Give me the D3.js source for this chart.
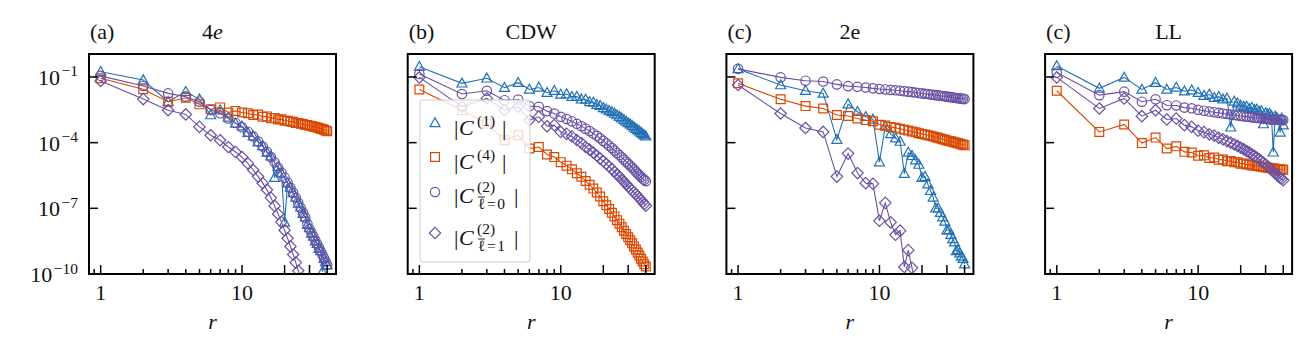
<!DOCTYPE html>
<html><head><meta charset="utf-8">
<script src="https://cdn.jsdelivr.net/npm/d3@7"></script>
<style>
body{margin:0;background:#fff}
svg{display:block}
text{font-family:"Liberation Serif","DejaVu Serif",serif;fill:#111}
</style>
</head><body>
<svg id="chart" width="1313" height="354"></svg>
<script>
// ---------------- data (values are log10 |C|) ----------------
const r = [1,2,3,4,5,6,7,8,9,10,11,12,13,14,15,16,17,18,19,20,21,22,23,24,25,26,27,28,29,30,31,32,33,34,35,36,37,38,39,40];
const panelLabels = ["(a)","(b)","(c)","(c)"];
const panelTitles = ["4e","CDW","2e","LL"];
const xTickValues = [1,10];
const xLongTicks = [1,10,20,30,40];
const xShortTicks = [0.9,2,3,4,5,6,7,8,9];
const yTickValues = [1e-1,1e-4,1e-7,1e-10];
const yTickExponents = ["−1","−4","−7","−10"];

const a_C1  = [-0.76,-1.14,-2.13,-1.67,-2.02,-2.74,-2.52,-2.85,-3.12,-3.25,-3.55,-3.7,-3.98,-4.15,-4.45,-4.62,-5.6,-5.1,-5.4,-7.64,-5.85,-6.05,-6.3,-6.5,-6.78,-6.95,-7.25,-7.4,-7.75,-7.9,-8.15,-8.28,-8.5,-8.62,-8.85,-8.95,-9.9,-9.3,-9.45,-9.6];
const a_C4  = [-1.06,-1.56,-2.13,-1.95,-2.25,-2.48,-2.39,-2.62,-2.55,-2.62,-2.66,-2.74,-2.72,-2.82,-2.8,-2.88,-2.87,-2.94,-2.93,-3.0,-3.0,-3.05,-3.05,-3.1,-3.1,-3.14,-3.15,-3.19,-3.19,-3.23,-3.24,-3.27,-3.28,-3.31,-3.33,-3.36,-3.38,-3.41,-3.44,-3.48];
const a_C20 = [-0.95,-1.41,-1.75,-1.9,-2.13,-2.5,-2.66,-2.9,-3.1,-3.3,-3.5,-3.72,-3.95,-4.18,-4.42,-4.66,-4.9,-5.14,-5.38,-5.6,-5.83,-6.06,-6.29,-6.52,-6.75,-6.98,-7.2,-7.42,-7.7,-7.95,-8.12,-8.3,-8.47,-8.64,-8.8,-8.96,-9.12,-9.28,-9.43,-9.58];
const a_C21 = [-1.18,-2.01,-2.52,-2.71,-3.28,-3.66,-3.89,-4.2,-4.43,-4.66,-4.95,-5.25,-5.55,-5.85,-6.15,-6.52,-6.89,-7.26,-7.63,-8.0,-8.37,-8.74,-9.11,-9.48,-9.85,-10.22,-10.6];

const b_C1  = [-0.53,-1.29,-1.06,-1.49,-1.26,-1.57,-1.48,-1.72,-1.63,-1.8,-1.78,-1.9,-1.9,-2.02,-2.03,-2.14,-2.16,-2.27,-2.31,-2.41,-2.47,-2.54,-2.6,-2.67,-2.74,-2.81,-2.88,-2.96,-3.03,-3.1,-3.16,-3.23,-3.29,-3.36,-3.42,-3.48,-3.54,-3.6,-3.66,-3.71];
const b_C4  = [-1.57,-2.52,-3.13,-3.89,-3.66,-4.27,-4.2,-4.54,-4.66,-4.89,-5.05,-5.22,-5.4,-5.56,-5.75,-5.92,-6.1,-6.28,-6.46,-6.68,-6.86,-7.03,-7.2,-7.37,-7.54,-7.7,-7.86,-8.02,-8.17,-8.32,-8.46,-8.6,-8.74,-8.88,-9.02,-9.16,-9.3,-9.43,-9.55,-9.66];
const b_C20 = [-0.86,-1.78,-1.63,-2.06,-2.03,-2.33,-2.36,-2.56,-2.67,-2.82,-2.92,-3.03,-3.14,-3.25,-3.36,-3.47,-3.58,-3.69,-3.8,-3.92,-4.03,-4.14,-4.25,-4.36,-4.47,-4.57,-4.67,-4.77,-4.87,-4.96,-5.05,-5.14,-5.23,-5.32,-5.41,-5.49,-5.57,-5.64,-5.7,-5.76];
const b_C21 = [-1.02,-2.36,-1.98,-2.52,-2.36,-2.97,-2.82,-3.25,-3.2,-3.51,-3.6,-3.72,-3.88,-4.02,-4.2,-4.32,-4.46,-4.59,-4.73,-4.85,-4.97,-5.09,-5.21,-5.33,-5.45,-5.56,-5.67,-5.78,-5.89,-6.0,-6.09,-6.18,-6.27,-6.36,-6.45,-6.54,-6.62,-6.71,-6.8,-6.88];

const c_C1  = [-0.63,-1.37,-1.63,-1.75,-3.86,-2.24,-2.59,-2.82,-2.94,-4.89,-3.25,-3.6,-3.8,-3.95,-5.42,-4.45,-4.6,-4.8,-5.0,-5.6,-5.55,-5.9,-6.2,-6.5,-7.0,-7.0,-7.2,-7.4,-7.6,-8.0,-8.0,-8.2,-8.4,-8.55,-8.95,-8.9,-9.05,-9.2,-9.3,-9.55];
const c_C4  = [-1.29,-2.02,-2.33,-2.44,-2.74,-2.78,-2.9,-2.97,-3.02,-3.18,-3.22,-3.28,-3.32,-3.37,-3.41,-3.45,-3.49,-3.53,-3.57,-3.6,-3.63,-3.66,-3.69,-3.72,-3.75,-3.78,-3.81,-3.84,-3.87,-3.9,-3.92,-3.94,-3.96,-3.99,-4.01,-4.03,-4.05,-4.07,-4.1,-4.12];
const c_C20 = [-0.63,-1.02,-1.17,-1.21,-1.34,-1.42,-1.45,-1.48,-1.52,-1.55,-1.57,-1.59,-1.61,-1.63,-1.65,-1.67,-1.69,-1.71,-1.73,-1.75,-1.77,-1.78,-1.8,-1.81,-1.83,-1.84,-1.86,-1.87,-1.88,-1.9,-1.91,-1.92,-1.94,-1.95,-1.96,-1.97,-1.98,-1.99,-2.0,-2.01];
const c_C21 = [-1.37,-2.67,-3.33,-3.51,-5.55,-4.5,-5.39,-5.85,-5.88,-7.57,-6.75,-7.64,-8.21,-8.02,-9.68,-8.91,-9.72,-10.5,-11.0];

const d_C1  = [-0.5,-1.52,-1.02,-1.57,-1.26,-1.57,-1.48,-1.65,-1.6,-1.72,-1.85,-1.8,-1.95,-1.9,-2.02,-1.98,-3.3,-2.12,-2.2,-2.3,-2.36,-2.35,-2.45,-2.4,-2.5,-2.48,-2.58,-2.55,-3.15,-2.65,-2.7,-2.68,-2.78,-4.44,-2.8,-2.85,-3.0,-3.53,-2.88,-3.2];
const d_C4  = [-1.63,-3.51,-3.17,-4.02,-3.77,-4.27,-4.17,-4.42,-4.45,-4.6,-4.58,-4.7,-4.68,-4.78,-4.77,-4.85,-4.84,-4.9,-4.9,-4.96,-4.95,-5.0,-5.0,-5.04,-5.04,-5.07,-5.08,-5.1,-5.11,-5.13,-5.14,-5.16,-5.17,-5.18,-5.19,-5.2,-5.21,-5.22,-5.23,-5.24];
const d_C20 = [-0.8,-1.83,-1.67,-2.13,-2.02,-2.29,-2.3,-2.4,-2.43,-2.5,-2.54,-2.58,-2.61,-2.64,-2.67,-2.69,-2.72,-2.74,-2.76,-2.78,-2.8,-2.81,-2.83,-2.84,-2.86,-2.87,-2.88,-2.89,-2.9,-2.91,-2.92,-2.93,-2.94,-2.94,-2.95,-2.95,-2.96,-2.96,-2.97,-2.97];
const d_C21 = [-1.02,-2.44,-1.98,-2.79,-2.52,-2.94,-2.9,-3.2,-3.28,-3.46,-3.52,-3.62,-3.68,-3.78,-3.85,-3.93,-4.0,-4.08,-4.15,-4.23,-4.3,-4.38,-4.45,-4.53,-4.6,-4.68,-4.76,-4.84,-4.92,-5.0,-5.08,-5.16,-5.24,-5.32,-5.4,-5.47,-5.54,-5.6,-5.66,-5.72];

const panelData = [
  [a_C1, a_C4, a_C20, a_C21],
  [b_C1, b_C4, b_C20, b_C21],
  [c_C1, c_C4, c_C20, c_C21],
  [d_C1, d_C4, d_C20, d_C21]
];
const seriesColors = ["#2171b5","#d94801","#6a51a3","#6a51a3"];
const seriesMarkers = ["tri","sq","circ","dia"];

// ---------------- layout ----------------
const svg = d3.select("#chart");
const W = 247, H = 220, TOP = 54;
const FS = 22, SFS = 15.5;
const lefts = [89, 407.7, 726.4, 1045.1];
const x = d3.scaleLog().domain([0.827, 46.2]).range([0, W]);
const y = d3.scaleLog().domain([1e-10, 1.12]).range([H, 0]);

const markerPath = {
  tri: "M0,-5.2L5,3.7L-5,3.7Z",
  sq: "M-4.4,-4.4H4.4V4.4H-4.4Z",
  circ: d3.symbol(d3.symbolCircle, Math.PI*4.7*4.7)(),
  dia: "M0,-5.7L5.7,0L0,5.7L-5.7,0Z"
};

panelData.forEach((series, p) => {
  const g = svg.append("g").attr("transform", `translate(${lefts[p]},${TOP})`);
  const cid = "clip" + p;
  g.append("clipPath").attr("id", cid).append("rect").attr("width", W).attr("height", H);
  const plot = g.append("g").attr("clip-path", `url(#${cid})`);

  series.forEach((vals, s) => {
    const pts = vals.map((v, i) => ({r: r[i], c: Math.pow(10, v)}));
    const line = d3.line().x(d => x(d.r)).y(d => y(d.c));
    plot.append("path").datum(pts)
      .attr("d", line).attr("fill","none")
      .attr("stroke", seriesColors[s]).attr("stroke-width", 1.1);
    plot.append("g").selectAll("path").data(pts).join("path")
      .attr("transform", d => `translate(${x(d.r)},${y(d.c)})`)
      .attr("d", markerPath[seriesMarkers[s]])
      .attr("fill","none").attr("stroke", seriesColors[s]).attr("stroke-width", 1.2);
  });

  // ticks (inward)
  const tk = g.append("g").attr("stroke","#000").attr("stroke-width",1.5);
  xLongTicks.forEach(t => tk.append("line").attr("x1",x(t)).attr("x2",x(t)).attr("y1",H).attr("y2",H-9));
  xShortTicks.forEach(t => tk.append("line").attr("x1",x(t)).attr("x2",x(t)).attr("y1",H).attr("y2",H-5));
  yTickValues.forEach(t => tk.append("line").attr("x1",0).attr("x2",9).attr("y1",y(t)).attr("y2",y(t)));

  // frame
  g.append("rect").attr("width", W).attr("height", H)
    .attr("fill","none").attr("stroke","#000").attr("stroke-width",2);

  // x tick labels
  xTickValues.forEach(t => g.append("text").attr("x", x(t)).attr("y", H+26)
    .attr("text-anchor","middle").attr("font-size",FS).text(String(t)));
  // x label
  g.append("text").attr("x", W/2).attr("y", H+55).attr("text-anchor","middle")
    .attr("font-size",FS).attr("font-style","italic").text("r");

  // y tick labels (only first panel)
  if (p === 0) {
    yTickValues.forEach((t, i) => {
      const tx = g.append("text").attr("x", -11).attr("y", y(t)+8)
        .attr("text-anchor","end").attr("font-size",FS);
      tx.append("tspan").text("10");
      tx.append("tspan").attr("dy",-8.5).attr("dx",1.5).attr("font-size",SFS).text(yTickExponents[i]);
    });
  }

  // titles
  g.append("text").attr("x", 1).attr("y", -15.5).attr("font-size",FS).text(panelLabels[p]);
  const tt = g.append("text").attr("x", W/2).attr("y", -15.5).attr("text-anchor","middle").attr("font-size",FS);
  if (panelTitles[p] === "4e") {
    tt.append("tspan").text("4");
    tt.append("tspan").attr("font-style","italic").text("e");
  } else {
    tt.text(panelTitles[p]);
  }

  // legend in panel (b)
  if (p === 1) {
    const lg = svg.append("g");
    lg.append("rect").attr("x",420).attr("y",100).attr("width",110).attr("height",162)
      .attr("rx",3).attr("fill","#fff").attr("fill-opacity",0.8)
      .attr("stroke","#cccccc").attr("stroke-width",1);
    const rows = [
      {my:123, by:135, sup:"(1)", sub:null},
      {my:157, by:169, sup:"(4)", sub:null},
      {my:192, by:203, sup:"(2)", sub:"0"},
      {my:233, by:245, sup:"(2)", sub:"1"}
    ];
    rows.forEach((row, s) => {
      lg.append("path").attr("transform", `translate(435,${row.my})`)
        .attr("d", markerPath[seriesMarkers[s]])
        .attr("fill","none").attr("stroke", seriesColors[s]).attr("stroke-width",1.2);
      lg.append("text").attr("x",454).attr("y",row.by).attr("font-size",FS).text("|");
      lg.append("text").attr("x",459).attr("y",row.by).attr("font-size",FS).attr("font-style","italic").text("C");
      lg.append("text").attr("x",477).attr("y",row.by-(row.sub?11:9)).attr("font-size",SFS).text(row.sup);
      if (row.sub) {
        lg.append("text").attr("x",478).attr("y",row.by+6).attr("font-size",SFS)
          .attr("letter-spacing",1.5).text("ℓ=" + row.sub);
        lg.append("line").attr("x1",478).attr("x2",485).attr("y1",row.by-6).attr("y2",row.by-6)
          .attr("stroke","#111").attr("stroke-width",0.9);
        lg.append("text").attr("x",514).attr("y",row.by).attr("font-size",FS).text("|");
      } else {
        lg.append("text").attr("x",502).attr("y",row.by).attr("font-size",FS).text("|");
      }
    });
  }
});
</script>
</body></html>
